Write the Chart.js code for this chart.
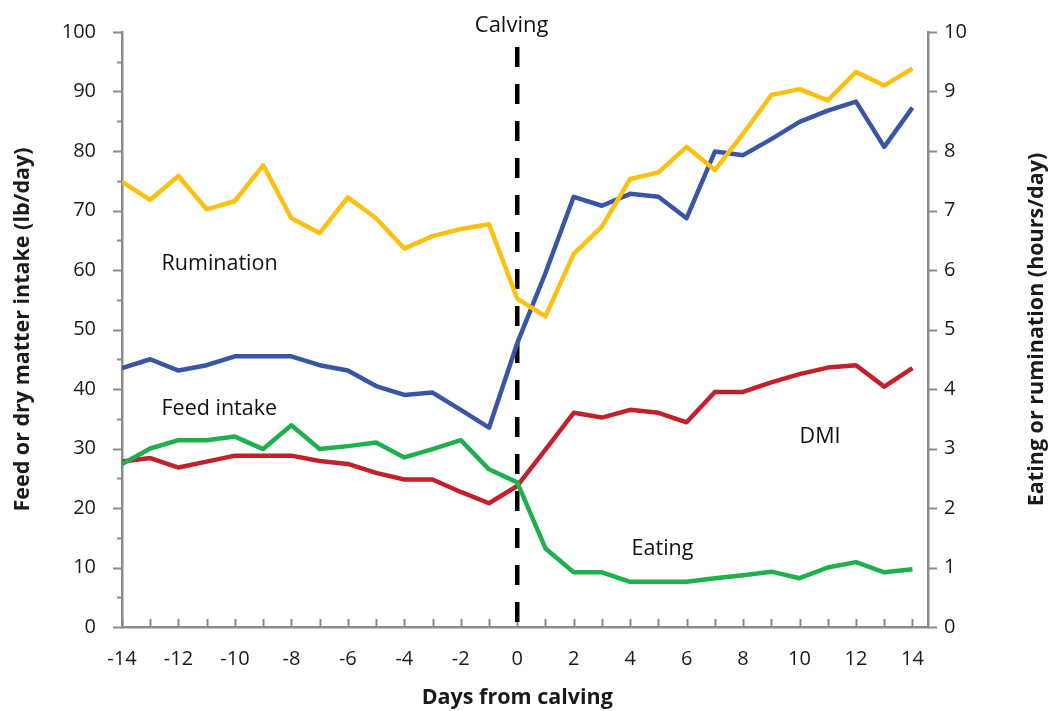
<!DOCTYPE html>
<html>
<head>
<meta charset="utf-8">
<script src="https://cdn.jsdelivr.net/npm/chart.js@4.4.1/dist/chart.umd.min.js"></script>
<style>
  html, body { margin: 0; padding: 0; background: #ffffff; }
  #wrap { width: 1049px; height: 711px; position: relative; }
</style>
</head>
<body>
<div id="wrap"><canvas id="c" width="1049" height="711"></canvas></div>
<script>
// ---- Data ----
const days = [-14,-13,-12,-11,-10,-9,-8,-7,-6,-5,-4,-3,-2,-1,0,1,2,3,4,5,6,7,8,9,10,11,12,13,14];

// left axis, lb/day
const feedIntake = [43.5,45.0,43.1,44.0,45.5,45.5,45.5,44.0,43.1,40.5,39.0,39.4,36.5,33.5,
                    47.7,59.5,72.3,70.8,72.8,72.3,68.7,79.9,79.3,82.0,84.9,86.8,88.3,80.7,87.3];
const dmi        = [27.8,28.4,26.8,27.8,28.8,28.8,28.8,27.9,27.4,25.9,24.8,24.8,22.7,20.8,
                    23.7,29.8,36.0,35.2,36.5,36.0,34.4,39.5,39.5,41.1,42.5,43.6,44.0,40.4,43.5];
// right axis, hours/day
const rumination = [7.48,7.18,7.58,7.02,7.16,7.76,6.87,6.62,7.22,6.87,6.36,6.57,6.69,6.77,
                    5.52,5.22,6.27,6.73,7.53,7.64,8.07,7.68,8.29,8.94,9.04,8.85,9.33,9.10,9.39];
const eating     = [2.74,3.00,3.14,3.14,3.20,2.99,3.39,2.99,3.04,3.10,2.85,2.99,3.14,2.65,
                    2.43,1.32,0.92,0.92,0.76,0.76,0.76,0.82,0.87,0.93,0.82,1.00,1.09,0.92,0.97];

// calving marker (day 0), spans left axis values
const calvingDay = 0;
const calvingSpan = [97.5, 0];

// tick labels
const xTicks = [-14,-12,-10,-8,-6,-4,-2,0,2,4,6,8,10,12,14];
const leftTicks = [0,10,20,30,40,50,60,70,80,90,100];
const rightTicks = [0,1,2,3,4,5,6,7,8,9,10];

// text
const leftTitle = 'Feed or dry matter intake (lb/day)';
const rightTitle = 'Eating or rumination (hours/day)';
const xTitle = 'Days from calving';
const notes = [
  { text: 'Calving',     x: -0.2,  y: 100,  align: 'center' },
  { text: 'Rumination',  x: -12.6, y: 60.0, align: 'left' },
  { text: 'Feed intake', x: -12.6, y: 35.6, align: 'left' },
  { text: 'DMI',         x: 10.0,  y: 31.0, align: 'left' },
  { text: 'Eating',      x: 4.05,  y: 12.1, align: 'left' }
];

// ---- Styles ----
const FONT = '"Open Sans", "Noto Sans", sans-serif';
const axisColor = '#8b8b8b';
const textColor = '#1a1a1a';
const colors = { rum: '#FDC010', feed: '#3A55A5', dmi: '#C4202B', eat: '#1DB04D' };

const pts = arr => arr.map((v, i) => ({ x: days[i], y: v }));

const decor = {
  id: 'decor',
  beforeDatasetsDraw(chart) {
    const { ctx, chartArea: a, scales } = chart;
    const x = scales.x, y = scales.y, y2 = scales.y2;
    ctx.save();
    ctx.strokeStyle = axisColor;
    ctx.lineWidth = 2;
    ctx.beginPath();
    // left axis ticks (major every 10, minor every 5)
    for (let v = 0; v <= 100; v += 5) {
      const p = Math.round(y.getPixelForValue(v)) + 0.5;
      const len = (v % 10 === 0) ? 9 : 5;
      ctx.moveTo(a.left - len, p); ctx.lineTo(a.left, p);
    }
    // right axis ticks
    rightTicks.forEach(v => {
      const p = Math.round(y2.getPixelForValue(v)) + 0.5;
      ctx.moveTo(a.right, p); ctx.lineTo(a.right + 9, p);
    });
    // x ticks every day, pointing into the plot
    days.forEach(d => {
      const p = Math.round(x.getPixelForValue(d)) + 0.5;
      ctx.moveTo(p, a.bottom); ctx.lineTo(p, a.bottom - 8);
    });
    ctx.stroke();
    ctx.restore();
  },
  afterDatasetsDraw(chart) {
    const { ctx, scales } = chart;
    const x = scales.x, y = scales.y;
    ctx.save();
    ctx.fillStyle = '#111';
    ctx.textBaseline = 'alphabetic';
    notes.forEach(n => {
      ctx.font = (n.text === 'Calving' ? '22px ' : '21.5px ') + FONT;
      ctx.textAlign = n.align;
      ctx.fillText(n.text, x.getPixelForValue(n.x), y.getPixelForValue(n.y));
    });
    ctx.restore();
  },
  afterDraw(chart) {
    const { ctx, chartArea: a, scales } = chart;
    ctx.save();
    ctx.fillStyle = textColor;
    ctx.font = 'bold 21.5px ' + FONT;
    ctx.textAlign = 'center';
    ctx.textBaseline = 'middle';
    // x axis title, centred under day 0 as in the reference
    ctx.fillText(xTitle, scales.x.getPixelForValue(calvingDay), 698);
    // right axis title, reading bottom to top
    ctx.translate(1037, (a.top + a.bottom) / 2);
    ctx.rotate(-Math.PI / 2);
    ctx.fillText(rightTitle, 0, 0);
    ctx.restore();
  }
};

const lineDs = (label, data, color, axis, order) => ({
  label, data: pts(data), borderColor: color, backgroundColor: color,
  borderWidth: 4.5, pointRadius: 0, pointHoverRadius: 0, tension: 0,
  borderJoinStyle: 'round', yAxisID: axis, order
});

const noPad = s => { s.paddingTop = 0; s.paddingBottom = 0; };

new Chart(document.getElementById('c'), {
  type: 'line',
  data: {
    datasets: [
      lineDs('Rumination', rumination, colors.rum, 'y2', 0),
      lineDs('Feed intake', feedIntake, colors.feed, 'y', 1),
      lineDs('Eating', eating, colors.eat, 'y2', 2),
      lineDs('DMI', dmi, colors.dmi, 'y', 3),
      {
        label: 'Calving',
        data: calvingSpan.map(v => ({ x: calvingDay, y: v })),
        borderColor: '#000', borderWidth: 4.5, borderDash: [20, 17],
        pointRadius: 0, pointHoverRadius: 0, yAxisID: 'y', order: 10
      }
    ]
  },
  options: {
    responsive: false,
    animation: false,
    events: [],
    layout: { padding: { top: 32, left: 0, right: 0, bottom: 0 } },
    plugins: { legend: { display: false }, tooltip: { enabled: false } },
    scales: {
      x: {
        type: 'linear', min: -14, max: 14.55,
        afterBuildTicks: s => { s.ticks = xTicks.map(v => ({ value: v })); },
        afterFit: s => { s.height = 84; s.paddingLeft = 0; s.paddingRight = 0; },
        grid: { display: false, drawTicks: false },
        border: { display: true, color: axisColor, width: 2.5 },
        ticks: { font: { family: FONT, size: 20 }, color: textColor, padding: 20, maxRotation: 0, autoSkip: false }
      },
      y: {
        position: 'left', min: 0, max: 100,
        afterBuildTicks: s => { s.ticks = leftTicks.map(v => ({ value: v })); },
        afterFit: s => { s.width = 122; noPad(s); },
        grid: { display: false, drawTicks: false },
        border: { display: true, color: axisColor, width: 2.5 },
        ticks: { font: { family: FONT, size: 20 }, color: textColor, padding: 26 },
        title: { display: true, text: leftTitle, font: { family: FONT, size: 21.5, weight: 'bold' }, color: textColor, padding: { top: 10, bottom: 0 } }
      },
      y2: {
        position: 'right', min: 0, max: 10,
        afterBuildTicks: s => { s.ticks = rightTicks.map(v => ({ value: v })); },
        afterFit: s => { s.width = 121; noPad(s); },
        grid: { display: false, drawTicks: false },
        border: { display: true, color: axisColor, width: 2.5 },
        ticks: { font: { family: FONT, size: 20 }, color: textColor, padding: 16 }
      }
    }
  },
  plugins: [decor]
});
</script>
</body>
</html>
